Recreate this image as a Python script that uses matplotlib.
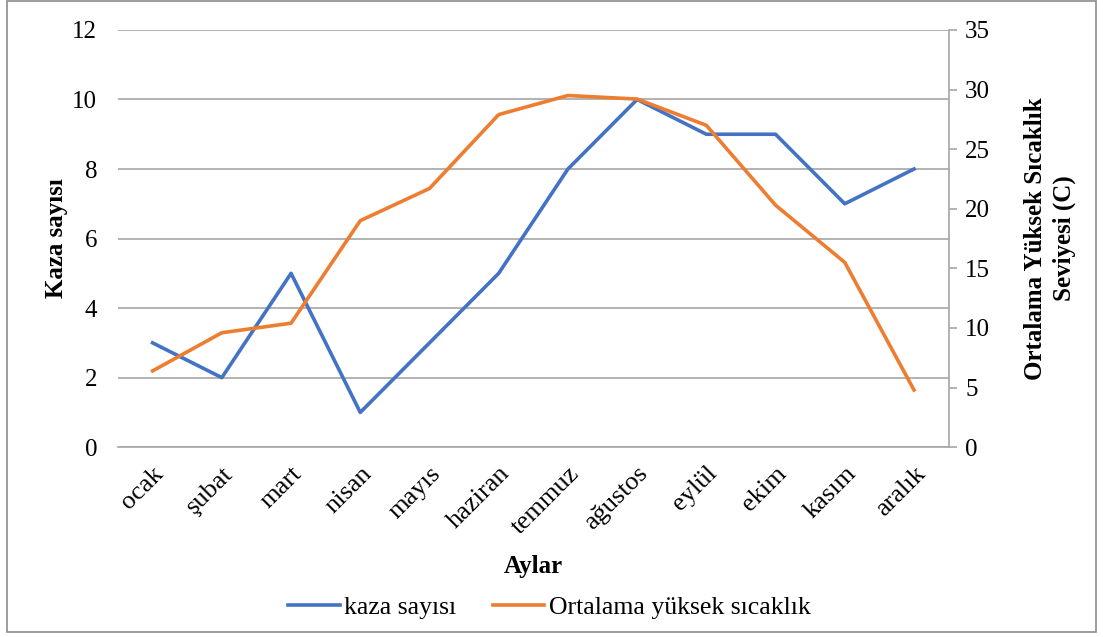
import matplotlib.pyplot as plt
from matplotlib.patches import Rectangle

plt.rcParams["font.family"] = ["Liberation Serif", "DejaVu Serif"]

aylar = ["ocak", "şubat", "mart", "nisan", "mayıs", "haziran",
         "temmuz", "ağustos", "eylül", "ekim", "kasım", "aralık"]
kaza_sayisi = [3, 2, 5, 1, 3, 5, 8, 10, 9, 9, 7, 8]
sicaklik = [6.4, 9.6, 10.4, 19.0, 21.7, 27.9, 29.5, 29.2, 27.0, 20.3, 15.5, 4.8]

mavi = "#4472C4"
turuncu = "#ED7D31"
gri = "#A6A6A6"

fig = plt.figure(figsize=(11.03, 6.37), dpi=100)
ax = fig.add_axes([0.107, 0.298, 0.753, 0.655])
ax2 = ax.twinx()

x = list(range(len(aylar)))

ax.plot(x, kaza_sayisi, color=mavi, linewidth=2.6, label="kaza sayısı", zorder=3)
ax2.plot(x, sicaklik, color=turuncu, linewidth=2.6, label="Ortalama yüksek sıcaklık", zorder=3)

ax.set_xlim(-0.5, 11.5)
ax.set_ylim(0, 12)
ax.set_yticks(range(0, 13, 2))
ax2.set_ylim(0, 35)
ax2.set_yticks(range(0, 36, 5))

ax.grid(axis="y", color=gri, linewidth=1.2)
ax.set_axisbelow(True)

for sp in ["top", "left", "right"]:
    ax.spines[sp].set_visible(False)
for sp in ["top", "left", "bottom"]:
    ax2.spines[sp].set_visible(False)
ax.spines["bottom"].set_color(gri)
ax.spines["bottom"].set_linewidth(1.2)
ax2.spines["right"].set_color(gri)
ax2.spines["right"].set_linewidth(1.2)

ax.tick_params(axis="y", length=0, labelsize=18, pad=15)
ax.tick_params(axis="x", length=0, labelsize=19, pad=11)
ax2.tick_params(axis="y", length=6, color=gri, width=1.2, labelsize=18, pad=6)

ax.set_xticks(x)
ax.set_xticklabels(aylar, rotation=45, ha="right", rotation_mode="anchor")

ax.set_ylabel("Kaza sayısı", fontsize=18, fontweight="bold", labelpad=3)
ax.set_xlabel("Aylar", fontsize=18, fontweight="bold", labelpad=12)
ax2.set_ylabel("Ortalama Yüksek Sıcaklık\nSeviyesi (C)", fontsize=18,
               fontweight="bold", labelpad=24, linespacing=1.35)

h1, l1 = ax.get_legend_handles_labels()
h2, l2 = ax2.get_legend_handles_labels()
fig.legend(h1 + h2, l1 + l2, loc="center", bbox_to_anchor=(0.498, 0.046),
           ncol=2, frameon=False, fontsize=18.5, handlelength=2.0,
           handletextpad=0.16, columnspacing=1.45)

fig.patches.append(Rectangle((0.006, 0.008), 0.988, 0.99, transform=fig.transFigure,
                             fill=False, edgecolor="#8C8C8C", linewidth=1.2))

fig.savefig("out.png", dpi=100)
